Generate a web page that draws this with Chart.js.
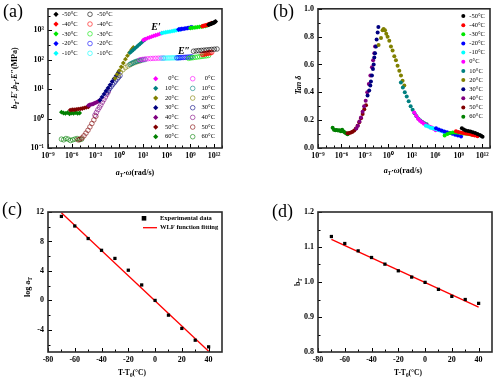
<!DOCTYPE html>
<html><head><meta charset="utf-8">
<script src="https://cdn.jsdelivr.net/npm/chart.js@4/dist/chart.umd.min.js"></script>
<style>
html,body{margin:0;padding:0;background:#fff;}
body{width:500px;height:381px;position:relative;overflow:hidden;font-family:'Liberation Serif','Times New Roman',serif;}
canvas{position:absolute;display:block;}
.t{position:absolute;white-space:nowrap;font-weight:bold;line-height:1;color:#000;transform:translate(-50%,-50%);}
.r{transform:translate(-50%,-50%) rotate(-90deg);}
.pl{position:absolute;font-size:18px;line-height:1;font-weight:normal;}
sub{font-size:70%;vertical-align:-0.3em;line-height:0;}
</style></head>
<body>
<canvas id="ca" width="250" height="190" style="left:0;top:0"></canvas>
<canvas id="cb" width="250" height="190" style="left:250px;top:0"></canvas>
<canvas id="cc" width="250" height="190" style="left:0;top:190px"></canvas>
<canvas id="cd" width="250" height="190" style="left:250px;top:190px"></canvas>

<div class="pl" style="left:3px;top:2px">(a)</div>
<div class="pl" style="left:273px;top:2px">(b)</div>
<div class="pl" style="left:2px;top:200px">(c)</div>
<div class="pl" style="left:272px;top:202px">(d)</div>

<div class="t" style="left:135px;top:173px;font-size:8px"><i>a</i><sub><i>T</i></sub>·<i>ω</i>(rad/s)</div>
<div class="t r" style="left:15px;top:78px;font-size:8px"><i>b</i><sub><i>T</i></sub>·<i>E′</i>,<i>b</i><sub><i>T</i></sub>·<i>E″</i>(MPa)</div>
<div class="t" style="left:403px;top:171px;font-size:8px"><i>a</i><sub><i>T</i></sub>·<i>ω</i>(rad/s)</div>
<div class="t r" style="left:299px;top:85px;font-size:8px"><i>Tan δ</i></div>
<div class="t" style="left:132px;top:373px;font-size:7.5px">T-T<sub>0</sub>(°C)</div>
<div class="t r" style="left:28px;top:287px;font-size:8px">log a<sub>T</sub></div>
<div class="t" style="left:408px;top:373px;font-size:7.5px">T-T<sub>0</sub>(°C)</div>
<div class="t r" style="left:298px;top:282px;font-size:8px">b<sub>T</sub></div>
<div class="t" style="left:156px;top:27px;font-size:10px"><i>E′</i></div>
<div class="t" style="left:184px;top:51px;font-size:10px"><i>E″</i></div>

<script>
const temps = ['-50°C','-40°C','-30°C','-20°C','-10°C','0°C','10°C','20°C','30°C','40°C','50°C','60°C'];
const palette = ['#000000','#ff0000','#00e600','#0000ff','#00ffff','#ff00ff','#008080','#808000','#000080','#800080','#800000','#008000'];

// (a) storage modulus E' : log10(aT*omega) and values (MPa)
const storageLogW = [
 [11.3,11.4,11.5,11.6,11.7,11.8,11.9,12.0,12.1,12.2],
 [10.5,10.63,10.77,10.9,11.03,11.17,11.3,11.43,11.57,11.7],
 [9.0,9.23,9.47,9.7,9.93,10.17,10.4,10.63,10.87,11.1],
 [7.5,7.69,7.88,8.07,8.26,8.44,8.63,8.82,9.01,9.2],
 [5.39,5.65,5.9,6.16,6.42,6.68,6.94,7.19,7.45,7.71],
 [3.06,3.32,3.58,3.84,4.1,4.35,4.61,4.87,5.13,5.39],
 [1.37,1.58,1.79,2.0,2.21,2.43,2.64,2.85,3.06,3.27],
 [-0.53,-0.27,0,0.26,0.52,0.79,1.05,1.31,1.58,1.79],
 [-2.44,-2.18,-1.92,-1.67,-1.41,-1.15,-0.89,-0.64,-0.38,-0.12],
 [-3.9,-3.74,-3.58,-3.42,-3.25,-3.09,-2.93,-2.77,-2.6,-2.44],
 [-6.2,-5.94,-5.69,-5.43,-5.18,-4.92,-4.67,-4.41,-4.16,-3.9],
 [-7.3,-7.04,-6.79,-6.53,-6.28,-6.02,-5.77,-5.51,-5.26,-5.0]
];
const storageMod = [
 [1550,1590,1630,1670,1710,1750,1800,1850,1920,2000],
 [1380,1410,1440,1470,1510,1550,1590,1640,1700,1770],
 [1200,1220,1240,1265,1290,1315,1340,1370,1400,1440],
 [1070,1090,1110,1130,1150,1170,1195,1220,1250,1280],
 [810,835,860,885,910,940,970,1000,1035,1070],
 [470,505,540,575,610,645,680,715,760,810],
 [174,195,219,245,275,309,347,389,437,490],
 [23.4,31.6,42.7,57.5,77.6,105,138,178,224,263],
 [4.2,5.4,6.8,8.7,11,14.1,18.2,22.9,28.8,37.2],
 [2.8,2.9,3.0,3.1,3.2,3.35,3.5,3.7,3.95,4.2],
 [1.95,2.0,2.0,2.05,2.1,2.15,2.2,2.3,2.4,2.5],
 [1.65,1.55,1.5,1.6,1.45,1.55,1.5,1.6,1.5,1.55]
];
// (a) loss modulus E''
const lossLogW = [
 [9.4,9.73,10.06,10.39,10.72,11.04,11.37,11.7,12.03,12.37],
 [10.5,10.63,10.77,10.9,11.03,11.17,11.3,11.43,11.57,11.7],
 [8.77,9.05,9.33,9.61,9.89,10.18,10.46,10.74,11.02,11.3],
 [7.3,7.51,7.72,7.93,8.14,8.36,8.57,8.78,8.99,9.2],
 [5.4,5.66,5.91,6.17,6.42,6.68,6.93,7.19,7.44,7.7],
 [2.64,2.97,3.3,3.63,3.96,4.28,4.61,4.94,5.27,5.6],
 [1.37,1.58,1.79,2.0,2.21,2.43,2.64,2.85,3.06,3.27],
 [-0.15,0.16,0.47,0.78,1.09,1.4,1.71,2.02,2.33,2.64],
 [-1.59,-1.4,-1.21,-1.02,-0.83,-0.64,-0.46,-0.27,-0.08,0.1],
 [-3.07,-2.88,-2.69,-2.5,-2.32,-2.13,-1.94,-1.75,-1.57,-1.38],
 [-5.2,-4.95,-4.7,-4.45,-4.2,-3.95,-3.7,-3.45,-3.2,-2.95],
 [-7.3,-7.02,-6.73,-6.45,-6.17,-5.88,-5.6,-5.32,-5.03,-4.75]
];
const lossMod = [
 [195,200,205,208,212,216,220,224,228,232],
 [152,155,158,161,164,167,170,172,175,178],
 [112,115,118,121,124,127,130,133,136,140],
 [116,117,118,119,120,121,122,123,124,125],
 [113,114,114,115,115,116,116,117,117,118],
 [100,103,106,108,110,111,112,113,114,114],
 [70,75,80,85,89,92,95,98,100,102],
 [30,38,46,54,61,68,75,81,87,92],
 [7.5,9,10.5,12.3,14.3,16.5,19,22,25.5,29],
 [1.3,1.6,2.0,2.4,2.9,3.6,4.4,5.4,6.6,8.1],
 [0.19,0.2,0.22,0.26,0.32,0.4,0.52,0.68,0.9,1.2],
 [0.2,0.19,0.21,0.2,0.18,0.19,0.2,0.21,0.19,0.2]
];
// (b) loss factor
const tanLogW = [
 [9.4,9.65,9.9,10.2,10.5,10.8,11.1,11.4,11.7,11.9,12.05],
 [8.65,8.95,9.25,9.55,9.85,10.15,10.45,10.75,11.05,11.4],
 [7.2,7.55,7.9,8.25,8.6,8.95,9.3,9.65,10.0,10.3,10.6],
 [6.1,6.45,6.8,7.15,7.5,7.85,8.2,8.55,8.9,9.3],
 [4.8,5.1,5.4,5.7,6.0,6.3,6.6,6.9,7.15,7.4],
 [3.3,3.55,3.8,4.05,4.3,4.55,4.8,5.05,5.3,5.55,5.8,6.05],
 [1.6,1.85,2.1,2.35,2.6,2.85,3.1,3.35,3.6,3.85,4.1,4.35,4.6,4.9],
 [-1.25,-0.94,-0.74,-0.61,-0.43,-0.27,-0.1,0.12,0.33,0.54,0.76,0.97,1.18,1.4,1.61,1.82,2.04],
 [-2.66,-2.45,-2.31,-2.23,-2.1,-1.97,-1.88,-1.8,-1.71,-1.58,-1.5,-1.37,-1.28],
 [-4.1,-3.9,-3.7,-3.5,-3.3,-3.1,-2.9,-2.7,-2.5,-2.3,-2.1,-1.95,-1.8,-1.7],
 [-5.21,-5.0,-4.79,-4.58,-4.36,-4.15,-3.94,-3.72,-3.5,-3.29,-3.08,-2.86],
 [-7.13,-6.96,-6.78,-6.61,-6.43,-6.26,-6.08,-5.91,-5.73,-5.56,-5.38,-5.21]
];
const tanDelta = [
 [0.142,0.133,0.126,0.122,0.118,0.113,0.108,0.101,0.094,0.087,0.08],
 [0.12,0.115,0.112,0.108,0.105,0.102,0.098,0.094,0.09,0.085],
 [0.09,0.1,0.108,0.112,0.112,0.11,0.108,0.105,0.103,0.1,0.097],
 [0.142,0.133,0.125,0.118,0.113,0.107,0.102,0.096,0.09,0.083],
 [0.16,0.155,0.146,0.142,0.137,0.132,0.126,0.12,0.114,0.108],
 [0.255,0.232,0.21,0.196,0.185,0.175,0.165,0.16,0.153,0.147,0.138,0.128],
 [0.47,0.435,0.4,0.37,0.335,0.3,0.275,0.25,0.228,0.21,0.197,0.187,0.178,0.17],
 [0.74,0.79,0.846,0.855,0.846,0.82,0.8,0.77,0.73,0.7,0.66,0.63,0.59,0.555,0.52,0.484,0.449],
 [0.378,0.413,0.449,0.478,0.52,0.567,0.6,0.65,0.68,0.73,0.78,0.83,0.87],
 [0.14,0.16,0.19,0.22,0.26,0.3,0.34,0.4,0.46,0.52,0.58,0.63,0.68,0.73],
 [0.106,0.108,0.112,0.116,0.125,0.14,0.16,0.185,0.213,0.245,0.279,0.307],
 [0.145,0.132,0.128,0.13,0.125,0.128,0.12,0.132,0.118,0.112,0.105,0.098]
];
// (c),(d) shift factors
const tempOffset = [-70,-60,-50,-40,-30,-20,-10,0,10,20,30,40];
const logAT = [11.4,10.1,8.4,6.8,5.7,4.1,2.1,0,-2.0,-3.8,-5.4,-6.3];
const bT = [1.13,1.11,1.089,1.07,1.051,1.032,1.014,0.999,0.979,0.959,0.95,0.939];
const wlfX = [-70,40];
const wlfY = [11.9,-6.9];
const bFitX = [-70,40];
const bFitY = [1.122,0.928];
// tick labels
const freqTickExp = [-9,-6,-3,0,3,6,9,12];
const modTickExp = [-1,0,1,2,3];
const tanTicks = [0,0.2,0.4,0.6,0.8,1.0];
const offsetTicks = [-80,-60,-40,-20,0,20,40];
const logATTicks = [-4,0,4,8,12];
const bTTicks = [0.8,0.9,1.0,1.1,1.2];

const FONT = "'Liberation Serif','Times New Roman',serif";
Chart.defaults.font.family = FONT;
Chart.defaults.color = '#000';

const SUP = {'-':'⁻','0':'⁰','1':'¹','2':'²','3':'³','4':'⁴','5':'⁵','6':'⁶','7':'⁷','8':'⁸','9':'⁹'};
function pow10Label(v){ const e = Math.round(Math.log10(v)); return '10' + String(e).split('').map(c=>SUP[c]).join(''); }
function rgba(hex,a){ const n=parseInt(hex.slice(1),16); return `rgba(${n>>16&255},${n>>8&255},${n&255},${a})`; }
function pts(xs, ys, logx){ return xs.map((x,i)=>({x: logx ? Math.pow(10,x) : x, y: ys[i]})); }

function axis(type, min, max, ticksArr, fmt, fit, isX){
  return {
    type, min, max,
    grid:{display:false, drawTicks:false}, border:{display:false},
    afterBuildTicks: s => { s.ticks = ticksArr.map(v=>({value:v})); },
    afterFit: s => { if(isX) s.height = fit; else s.width = fit; },
    ticks:{autoSkip:false, maxRotation:0, padding: isX?3:4, color:'#000',
      font:{family:FONT, size:8, weight:'bold'}, callback: fmt}
  };
}

function frame(spec){
  return { id:'frame', afterDatasetsDraw(chart){
    const {ctx, chartArea:a} = chart; const xs = chart.scales.x, ys = chart.scales.y;
    ctx.save();
    ctx.strokeStyle = '#000'; ctx.lineWidth = 1;
    ctx.beginPath();
    spec.xMajor.forEach(v=>{const p=Math.round(xs.getPixelForValue(v))+0.5; ctx.moveTo(p,a.bottom); ctx.lineTo(p,a.bottom-4);});
    spec.xMinor.forEach(v=>{const p=Math.round(xs.getPixelForValue(v))+0.5; ctx.moveTo(p,a.bottom); ctx.lineTo(p,a.bottom-2.5);});
    spec.yMajor.forEach(v=>{const p=Math.round(ys.getPixelForValue(v))+0.5; ctx.moveTo(a.left,p); ctx.lineTo(a.left+4,p);});
    spec.yMinor.forEach(v=>{const p=Math.round(ys.getPixelForValue(v))+0.5; ctx.moveTo(a.left,p); ctx.lineTo(a.left+2.5,p);});
    ctx.stroke();
    ctx.lineWidth = 1.6; ctx.strokeStyle = '#2b2b2b';
    ctx.strokeRect(a.left, a.top, a.right-a.left, a.bottom-a.top);
    ctx.restore();
  }};
}

function marker(ctx, style, x, y, color){
  ctx.save();
  if(style==='diamond'){ ctx.fillStyle=color; ctx.beginPath(); ctx.moveTo(x,y-2.6); ctx.lineTo(x+2.6,y); ctx.lineTo(x,y+2.6); ctx.lineTo(x-2.6,y); ctx.closePath(); ctx.fill(); }
  else if(style==='open'){ ctx.strokeStyle=color; ctx.lineWidth=0.8; ctx.beginPath(); ctx.arc(x,y,2.3,0,Math.PI*2); ctx.stroke(); }
  else if(style==='dot'){ ctx.fillStyle=color; ctx.beginPath(); ctx.arc(x,y,2,0,Math.PI*2); ctx.fill(); }
  else if(style==='square'){ ctx.fillStyle=color; ctx.fillRect(x-2.3,y-2.3,4.6,4.6); }
  else if(style==='line'){ ctx.strokeStyle=color; ctx.lineWidth=1.3; ctx.beginPath(); ctx.moveTo(x-7,y); ctx.lineTo(x+7,y); ctx.stroke(); }
  ctx.restore();
}
function text(ctx, s, x, y, align, font){
  ctx.save(); ctx.fillStyle='#000'; ctx.font=font; ctx.textBaseline='middle'; ctx.textAlign=align; ctx.fillText(s,x,y); ctx.restore();
}

const LEGFONT = "6.5px " + FONT;
const legendA = { id:'legA', afterDraw(chart){
  const ctx = chart.ctx;
  temps.forEach((t,i)=>{
    if(i<5){
      const y = 14.3 + i*9.75;
      marker(ctx,'diamond',56,y,palette[i]); text(ctx,t,62,y,'left',LEGFONT);
      marker(ctx,'open',90,y,rgba(palette[i],0.75)); text(ctx,t,97,y,'left',LEGFONT);
    } else {
      const y = 78.7 + (i-5)*9.67;
      marker(ctx,'diamond',155.7,y,palette[i]); text(ctx,t,178.5,y,'right',LEGFONT);
      marker(ctx,'open',192.7,y,rgba(palette[i],0.75)); text(ctx,t,215,y,'right',LEGFONT);
    }
  });
}};
const legendB = { id:'legB', afterDraw(chart){
  const ctx = chart.ctx;
  temps.forEach((t,i)=>{ const y = 16 + i*9.15; marker(ctx,'dot',213.3,y,palette[i]); text(ctx,t,219.3,y,'left',LEGFONT); });
}};
const legendC = { id:'legC', afterDraw(chart){
  const ctx = chart.ctx; const f = "bold 6.5px " + FONT;
  marker(ctx,'square',144,28.3,'#000'); text(ctx,'Experimental data',160,28.3,'left',f);
  marker(ctx,'line',150,37.7,'#ff0000'); text(ctx,'WLF function fitting',160,37.7,'left',f);
}};

const decades = []; for(let e=-9;e<=13;e++) decades.push(e);
const freqMajor = freqTickExp.map(e=>Math.pow(10,e));
const freqMinor = decades.filter(e=>!freqTickExp.includes(e)).map(e=>Math.pow(10,e));
const common = { responsive:false, animation:false, events:[], plugins:{legend:{display:false}, tooltip:{enabled:false}} };

// ---------- (a)
const dsA = [];
temps.forEach((t,i)=>{
  dsA.push({label:t+" E''", data:pts(lossLogW[i], lossMod[i], true), pointStyle:'circle', pointRadius:2.3,
    backgroundColor:'rgba(0,0,0,0)', borderColor:rgba(palette[i],0.75), borderWidth:0.8, order: 20+i});
});
temps.forEach((t,i)=>{
  dsA.push({label:t+" E'", data:pts(storageLogW[i], storageMod[i], true), pointStyle:'rectRot', pointRadius:2.4,
    backgroundColor:palette[i], borderColor:palette[i], borderWidth:0, order: i});
});
new Chart(document.getElementById('ca'), { type:'scatter', data:{datasets:dsA},
  options:{...common, layout:{padding:{left:8,right:28,top:7,bottom:22}},
    scales:{ x: axis('logarithmic',1e-9,1e13,freqMajor,pow10Label,20,true),
             y: axis('logarithmic',0.1,5400,modTickExp.map(e=>Math.pow(10,e)),pow10Label,40,false) } },
  plugins:[frame({xMajor:freqMajor, xMinor:freqMinor, yMajor:modTickExp.map(e=>Math.pow(10,e)), yMinor:[-1,0,1,2,3].map(e=>Math.pow(10,e+0.5))}), legendA]
});

// ---------- (b)
const dsB = temps.map((t,i)=>({label:t, data:pts(tanLogW[i], tanDelta[i], true), pointStyle:'circle', pointRadius:2,
  backgroundColor:palette[i], borderColor:palette[i], borderWidth:0}));
new Chart(document.getElementById('cb'), { type:'scatter', data:{datasets:dsB},
  options:{...common, layout:{padding:{left:38,right:10,top:7,bottom:22}},
    scales:{ x: axis('logarithmic',1e-9,1e13,freqMajor,pow10Label,20,true),
             y: axis('linear',0,1,tanTicks,v=>v.toFixed(1),30,false) } },
  plugins:[frame({xMajor:freqMajor, xMinor:freqMinor, yMajor:tanTicks, yMinor:[0.1,0.3,0.5,0.7,0.9]}), legendB]
});

// ---------- (c)
new Chart(document.getElementById('cc'), { type:'scatter', data:{datasets:[
    {label:'Experimental data', data:pts(tempOffset, logAT, false), pointStyle:'rect', pointRadius:2.3, backgroundColor:'#000', borderColor:'#000', borderWidth:0},
    {label:'WLF function fitting', data:pts(wlfX, wlfY, false), showLine:true, pointRadius:0, borderColor:'#ff0000', borderWidth:1.3}
  ]},
  options:{...common, layout:{padding:{left:18,right:28,top:22,bottom:8}},
    scales:{ x: axis('linear',-80,50,offsetTicks,v=>String(v),20,true),
             y: axis('linear',-7,12,logATTicks,v=>String(v),30,false) } },
  plugins:[frame({xMajor:offsetTicks, xMinor:[-70,-50,-30,-10,10,30], yMajor:logATTicks, yMinor:[-6,-2,2,6,10]}), legendC]
});

// ---------- (d)
new Chart(document.getElementById('cd'), { type:'scatter', data:{datasets:[
    {label:'bT', data:pts(tempOffset, bT, false), pointStyle:'rect', pointRadius:2.3, backgroundColor:'#000', borderColor:'#000', borderWidth:0},
    {label:'fit', data:pts(bFitX, bFitY, false), showLine:true, pointRadius:0, borderColor:'#ff0000', borderWidth:1.3}
  ]},
  options:{...common, layout:{padding:{left:38,right:8,top:22,bottom:8}},
    scales:{ x: axis('linear',-80,50,offsetTicks,v=>String(v),20,true),
             y: axis('linear',0.8,1.2,bTTicks,v=>v.toFixed(1),30,false) } },
  plugins:[frame({xMajor:offsetTicks, xMinor:[-70,-50,-30,-10,10,30], yMajor:bTTicks, yMinor:[0.85,0.95,1.05,1.15]})]
});
</script>
</body></html>
